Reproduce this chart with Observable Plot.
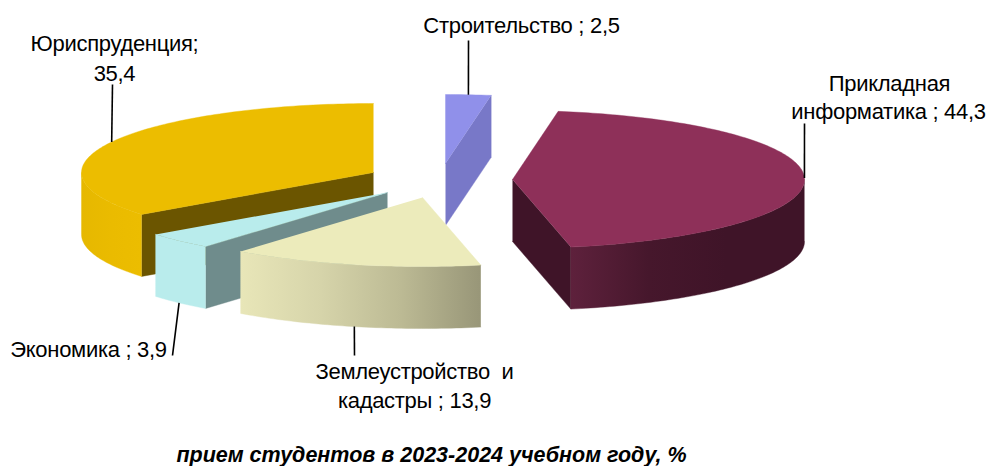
<!DOCTYPE html>
<html><head><meta charset="utf-8">
<script src="https://cdn.jsdelivr.net/npm/d3@7"></script>
<script src="https://cdn.jsdelivr.net/npm/@observablehq/plot@0.6"></script>
<style>
html,body{margin:0;padding:0;background:#fff;overflow:hidden}
#cap{position:relative;width:987px;height:26px;box-sizing:border-box;text-align:center;font:italic bold 21.5px "Liberation Sans",Arial,sans-serif;line-height:30px;color:#000;transform:translateX(-62px);white-space:nowrap}
svg text{letter-spacing:-0.3px}
</style></head><body><div id="chart"></div><div id="cap"></div>
<script>
// Data, clockwise from the top of the pie
const categories = ["Строительство","Прикладная информатика","Землеустройство и кадастры","Экономика","Юриспруденция"];
const shares = [2.5,44.3,13.9,3.9,35.4];
const title = "прием студентов в 2023-2024 учебном году, %";

// Layout
const W = 987, H = 440, RX = 292, RY = 69, DEPTH = 62;
const apexes = [[445,163],[512,179],[422,197],[387,192],[373,172]];
const topColors = ["#9090ea","#8e3059","#ecebbb","#b9ecec","#ecbd00"];
const faceColors = ["#7878c8","#3f1428","#8d8d70","#6f8c8c","#6b5500"];
const wallStops = [
  ["#7878c8","#7878c8"],
  ["#5e213c","#46172c","#3f1428","#3f1428"],
  ["#e8e6b8","#d6d4aa","#bcba94","#989678"],
  ["#b9ecec","#b9ecec"],
  ["#e6b800","#eabb00","#ecbd00"]
];
const leaderEnds = [[468,40],[804,123],[354,355],[172,355],[112,84]];
const labelLines = [
  {t:"Строительство ; 2,5",x:521,y:25},
  {t:"Прикладная",x:889,y:83},
  {t:"информатика ; 44,3",x:888,y:111},
  {t:"Землеустройство  и",x:414,y:371},
  {t:"кадастры ; 13,9",x:414,y:400},
  {t:"Экономика ; 3,9",x:88,y:349},
  {t:"Юриспруденция;",x:114,y:43},
  {t:"35,4",x:114,y:73}
];
const paintOrder = [4,0,3,2,1];

// Geometry derived from the shares
const rad = d => d*Math.PI/180;
let acc = 0;
const slices = shares.map((v,i) => {
  const a0 = acc/100*360; acc += v; const a1 = acc/100*360;
  return {i, a0, a1, mid:(a0+a1)/2, cx:apexes[i][0], cy:apexes[i][1]};
});
const rim = (s,a,dz=0) => ({x:s.cx+RX*Math.sin(rad(a)), y:s.cy-RY*Math.cos(rad(a))+dz});
const arc = (s,a0,a1,dz=0) => {
  const n = Math.max(2,Math.ceil(Math.abs(a1-a0)));
  return d3.range(n+1).map(k => rim(s,a0+(a1-a0)*k/n,dz));
};
const apex = (s,dz=0) => ({x:s.cx,y:s.cy+dz});
const radial = (s,a) => [apex(s),rim(s,a),rim(s,a,DEPTH),apex(s,DEPTH)];

const gradId = i => `wall${i}`;
function defs(){
  const d = d3.create("svg:defs");
  wallStops.forEach((stops,i) => {
    const g = d.append("linearGradient").attr("id",gradId(i)).attr("x1",0).attr("x2",1).attr("y1",0).attr("y2",0);
    stops.forEach((c,k) => g.append("stop").attr("offset",k/(stops.length-1)).attr("stop-color",c));
  });
  return d.node();
}

const face = (pts,fill) => Plot.line(pts,{x:"x",y:"y",fill,stroke:fill,strokeWidth:0.4});
const marks = [defs];
for (const idx of paintOrder){
  const s = slices[idx];
  const sinOf = a => Math.sin(rad(a));
  // radial cut faces that look toward the viewer
  if (sinOf(s.a0) < 0) marks.push(face(radial(s,s.a0),faceColors[idx]));
  if (sinOf(s.a1) > 0) marks.push(face(radial(s,s.a1),faceColors[idx]));
  // outer wall: front half of the rim
  const w0 = Math.max(s.a0,90), w1 = Math.min(s.a1,270);
  if (w1 > w0) marks.push(face([...arc(s,w0,w1),...arc(s,w1,w0,DEPTH)],`url(#${gradId(idx)})`));
  // top
  marks.push(face([apex(s),...arc(s,s.a0,s.a1)],topColors[idx]));
}
const leaders = slices.map(s => {
  const front = s.mid>90 && s.mid<270;
  const p = rim(s,s.mid,front?DEPTH:0);
  return {x1:p.x,y1:p.y,x2:leaderEnds[s.i][0],y2:leaderEnds[s.i][1]};
});
marks.push(Plot.link(leaders,{x1:"x1",y1:"y1",x2:"x2",y2:"y2",stroke:"#000",strokeWidth:1.6}));
marks.push(Plot.text(labelLines,{x:"x",y:"y",text:"t",fill:"#000",fontSize:22,textAnchor:"middle",lineAnchor:"middle",fontFamily:"Liberation Sans"}));

const chart = Plot.plot({
  width:W,height:H,margin:0,
  x:{domain:[0,W],range:[0,W],axis:null},
  y:{domain:[0,H],range:[0,H],axis:null},
  style:{background:"#fff",overflow:"visible"},
  marks
});
document.getElementById("chart").appendChild(chart);
chart.style.display="block";
document.getElementById("cap").textContent = title;
</script></body></html>
